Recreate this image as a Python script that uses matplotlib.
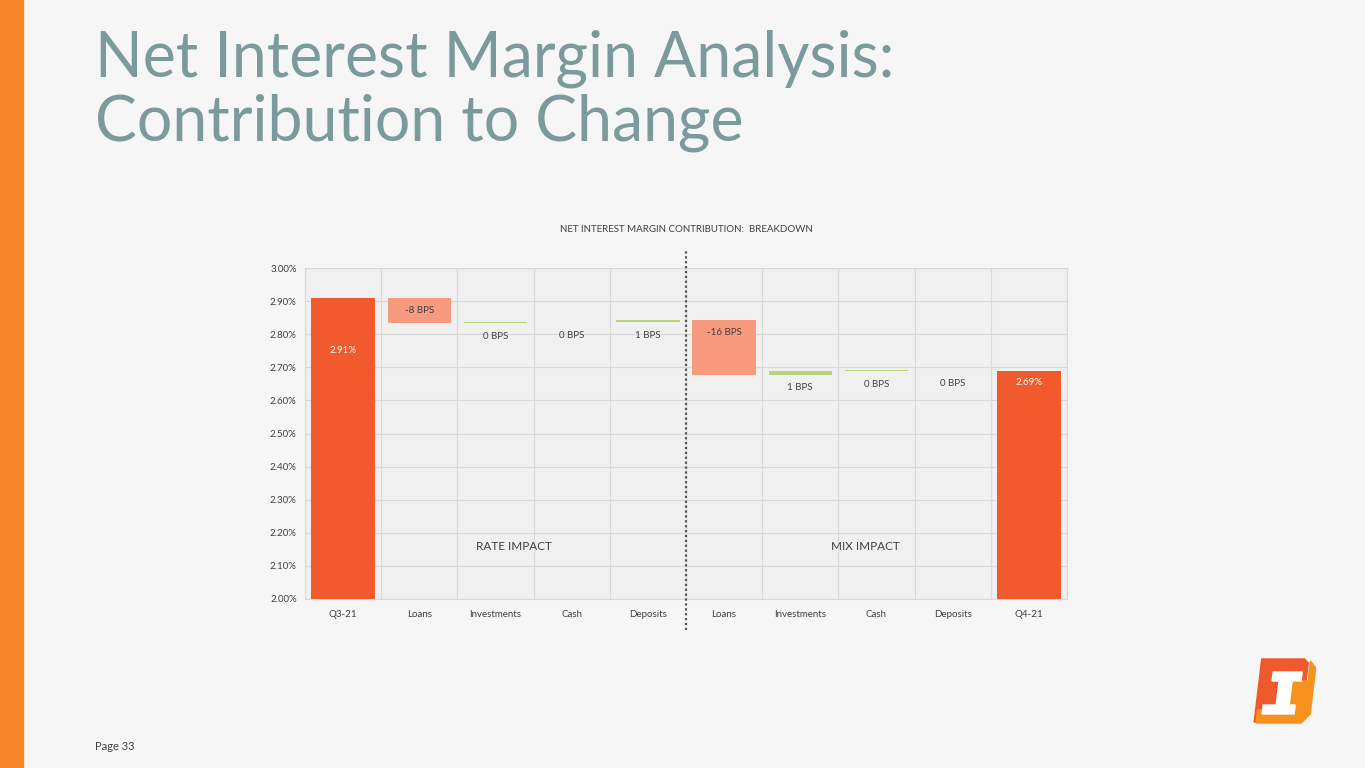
import matplotlib
matplotlib.use('agg')

from matplotlib import pyplot as plt
from matplotlib.patches import Polygon, Rectangle
import numpy as np

# waterfall data (NIM in %, deltas in %)
categories = ["Q3-21", "Loans", "Investments", "Cash", "Deposits",
              "Loans", "Investments", "Cash", "Deposits", "Q4-21"]
start_nim = 2.91
end_nim = 2.69
deltas = [-0.077, 0.003, 0.0, 0.006, -0.164, 0.010, 0.003, 0.0]
y_ticks = [2.00, 2.10, 2.20, 2.30, 2.40, 2.50, 2.60, 2.70, 2.80, 2.90, 3.00]

TOTAL_COLOR = "#f05a2c"
NEG_COLOR = "#f79a7e"
POS_COLOR = "#b9d47a"
TEXT_COLOR = "#404040"

fig = plt.figure(figsize=(13.65, 7.68), dpi=100)
fig.patch.set_facecolor("#f6f6f6")
plt.rcParams['font.family'] = ['Lato', 'DejaVu Sans']

# orange stripe on the left
fig.patches.append(Rectangle((0, 0), 23 / 1365, 1, transform=fig.transFigure,
                             color="#f7862a", zorder=0))

fig.text(95 / 1365, 1 - 76 / 768, "Net Interest Margin Analysis:",
         fontsize=45, color="#7b9a9c", va="baseline", ha="left")
fig.text(95 / 1365, 1 - 140 / 768, "Contribution to Change",
         fontsize=45, color="#7b9a9c", va="baseline", ha="left")
fig.text(95 / 1365, 1 - 746 / 768, "Page 33", fontsize=8, color=TEXT_COLOR,
         va="center", ha="left")

ax = fig.add_axes([305 / 1365, 169 / 768, 762 / 1365, 331 / 768])
ax.set_facecolor("#f0f0f0")

x = np.arange(len(categories))
bottoms, heights, colors = [2.0], [start_nim - 2.0], [TOTAL_COLOR]
level = start_nim
for d in deltas:
    bottoms.append(min(level, level + d))
    heights.append(abs(d))
    colors.append(NEG_COLOR if d < 0 else POS_COLOR)
    level += d
bottoms.append(2.0)
heights.append(end_nim - 2.0)
colors.append(TOTAL_COLOR)

ax.bar(x, heights, bottom=bottoms, width=0.83, color=colors, zorder=3)

# labels
for i in range(len(categories)):
    top = bottoms[i] + heights[i]
    if i == 0:
        ax.text(i, 2.75, f"{start_nim:.2f}%", ha="center", va="center",
                fontsize=7, color="white", zorder=4)
    elif i == len(categories) - 1:
        ax.text(i, top - 0.037, f"{end_nim:.2f}%", ha="center", va="center",
                fontsize=7, color="white", zorder=4)
    else:
        bps = int(round(deltas[i - 1] * 100))
        y = top - 0.037 if deltas[i - 1] < 0 else bottoms[i] - 0.04
        ax.text(i, y, f"{bps} BPS", ha="center", va="center",
                fontsize=7, color=TEXT_COLOR, zorder=4)

ax.set_xlim(-0.5, len(categories) - 0.5)
ax.set_ylim(2.0, 3.0)
ax.set_yticks(y_ticks)
ax.set_yticklabels([f"{t:.2f}%" for t in y_ticks])
ax.set_xticks(x)
ax.set_xticklabels(categories)
ax.set_xticks(np.arange(-0.5, len(categories)), minor=True)
ax.grid(True, which="major", axis="y", color="#d9d9d9", lw=0.8, zorder=0)
ax.grid(True, which="minor", axis="x", color="#d9d9d9", lw=0.8, zorder=0)
ax.tick_params(axis="both", which="both", length=0, labelsize=7,
               labelcolor=TEXT_COLOR)
ax.tick_params(axis="x", pad=8)
ax.tick_params(axis="y", pad=6)
for side in ["left", "top", "right", "bottom"]:
    ax.spines[side].set_color("#d9d9d9")
    ax.spines[side].set_linewidth(0.8)

ax.plot([4.5, 4.5], [1.906, 3.054], color="#555555", lw=1.6,
        linestyle=(0, (1, 1.2)), clip_on=False, zorder=5)
ax.text(2.24, 2.16, "RATE IMPACT", ha="center", va="center", fontsize=8.5,
        color=TEXT_COLOR, zorder=4)
ax.text(6.86, 2.16, "MIX IMPACT", ha="center", va="center", fontsize=8.5,
        color=TEXT_COLOR, zorder=4)
ax.set_title("NET INTEREST MARGIN CONTRIBUTION:  BREAKDOWN", fontsize=7,
             color=TEXT_COLOR, pad=26)

# logo (pixel grid, y down), slanted like italic
def slant(pts, k=0.12, y0=40):
    return [(px + k * (y0 - py), py) for px, py in pts]

lax = fig.add_axes([1245 / 1365, 1 - 730 / 768, 85 / 1365, 80 / 768])
lax.set_xlim(0, 85)
lax.set_ylim(80, 0)
lax.axis("off")
lax.add_patch(Polygon(slant([(13, 9), (56, 9), (60, 13), (60, 31), (41, 31),
                             (41, 60), (15, 60), (15, 72), (13, 72)]),
                      closed=True, color="#ee5a2b"))
lax.add_patch(Polygon(slant([(62, 11), (68, 18), (68, 64), (60, 73),
                             (15, 73), (15, 60), (41, 60), (41, 31),
                             (62, 31)]),
                      closed=True, color="#f7921e"))
lax.add_patch(Polygon(slant([(26, 22), (55, 22), (55, 31), (46, 31),
                             (46, 55), (52, 55), (52, 64), (20, 64),
                             (20, 55), (33, 55), (33, 31), (26, 31)]),
                      closed=True, color="white"))

plt.savefig("out.png", dpi=100, facecolor=fig.get_facecolor())
